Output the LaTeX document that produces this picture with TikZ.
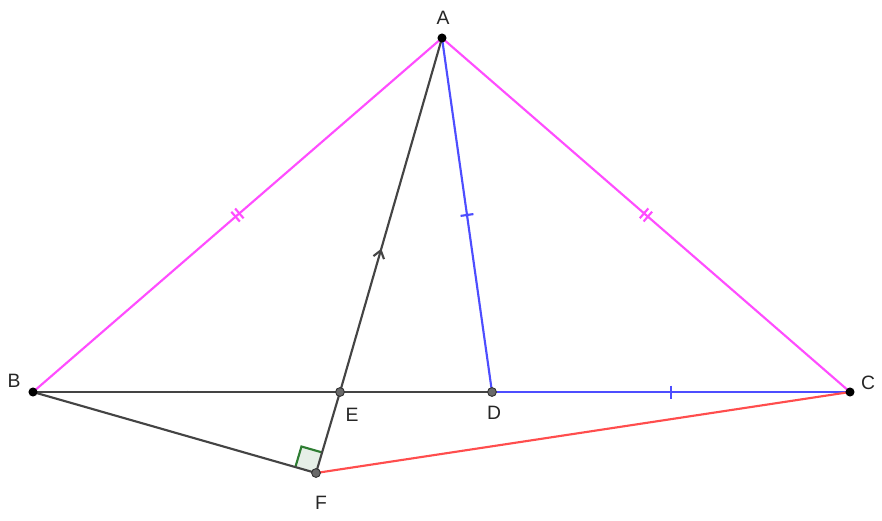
\documentclass[tikz,border=0pt]{standalone}
\usepackage{fontspec}
\setmainfont{Liberation Sans}
\usetikzlibrary{decorations.markings,calc}
\definecolor{mag}{HTML}{FF4DFF}
\definecolor{blu}{HTML}{4D4DFF}
\definecolor{rd}{HTML}{FF4D4D}
\definecolor{dg}{HTML}{444444}
\definecolor{gr}{HTML}{2E7D32}
\begin{document}
\begin{tikzpicture}[x=0.75pt,y=-0.75pt,
  seg/.style={line width=1.6pt},
  tickone/.style={postaction={decorate,decoration={markings,mark=at position .5 with {\draw[line width=1.6pt] (0,-6.5)--(0,6.5);}}}},
  ticktwo/.style={postaction={decorate,decoration={markings,mark=at position .5 with {\draw[line width=1.6pt] (-2.5,-6.5)--(-2.5,6.5) (2.5,-6.5)--(2.5,6.5);}}}},
  ticktiny/.style={postaction={decorate,decoration={markings,mark=at position .5 with {\draw[line width=1.6pt] (0,-1.3)--(0,1.3);}}}},
  arrowmid/.style={postaction={decorate,decoration={markings,mark=at position .4 with {\draw[line width=1.6pt] (-7.5,-5.5)--(0,0)--(-7.5,5.5);}}}},
  ptb/.style={circle,fill=black,inner sep=0pt,minimum size=6.8pt},
  ptg/.style={circle,fill=dg!80!white,draw=black!80,line width=0.7pt,inner sep=0pt,minimum size=6.6pt},
  lbl/.style={font=\fontsize{14.5}{17}\selectfont,text=black!85,inner sep=0pt}
]
\useasboundingbox (0,0) rectangle (882,521);
\coordinate (A) at (442,38);
\coordinate (B) at (33,392);
\coordinate (C) at (850,392);
\coordinate (D) at (492,392);
\coordinate (E) at (340,392);
\coordinate (F) at (316,473);
\coordinate (Fe) at ($(F)!16.1pt!(E)$);
\coordinate (Fb) at ($(F)!16.1pt!(B)$);
\coordinate (Fc) at ($(Fe)+(Fb)-(F)$);
% right angle
\fill[gr!12] (F) -- (Fe) -- (Fc) -- (Fb) -- cycle;
\draw[gr,line width=1.6pt] (Fe) -- (Fc) -- (Fb);
% segments
\draw[seg,mag,ticktwo] (B) -- (A);
\draw[seg,mag,ticktwo] (A) -- (C);
\draw[seg,blu,tickone] (A) -- (D);
\draw[seg,blu,tickone] (D) -- (C);
\draw[seg,dg,ticktiny] (B) -- (E);
\draw[seg,dg] (E) -- (D);
\draw[seg,dg,arrowmid] (E) -- (A);
\draw[seg,dg] (E) -- (F);
\draw[seg,dg] (B) -- (F);
\draw[seg,rd] (F) -- (C);
% points
\node[ptb] (pA) at (A) {};
\node[ptb] (pB) at (B) {};
\node[ptb] (pC) at (C) {};
\node[ptg] (pD) at (D) {};
\node[ptg] (pE) at (E) {};
\node[ptg] (pF) at (F) {};
% labels
\node[lbl] (lA) at (443,18) {A};
\node[lbl] (lB) at (14,381) {B};
\node[lbl] (lC) at (868,383) {C};
\node[lbl] (lD) at (494,413) {D};
\node[lbl] (lE) at (352,415) {E};
\node[lbl] (lF) at (321,503) {F};
\end{tikzpicture}
\end{document}
